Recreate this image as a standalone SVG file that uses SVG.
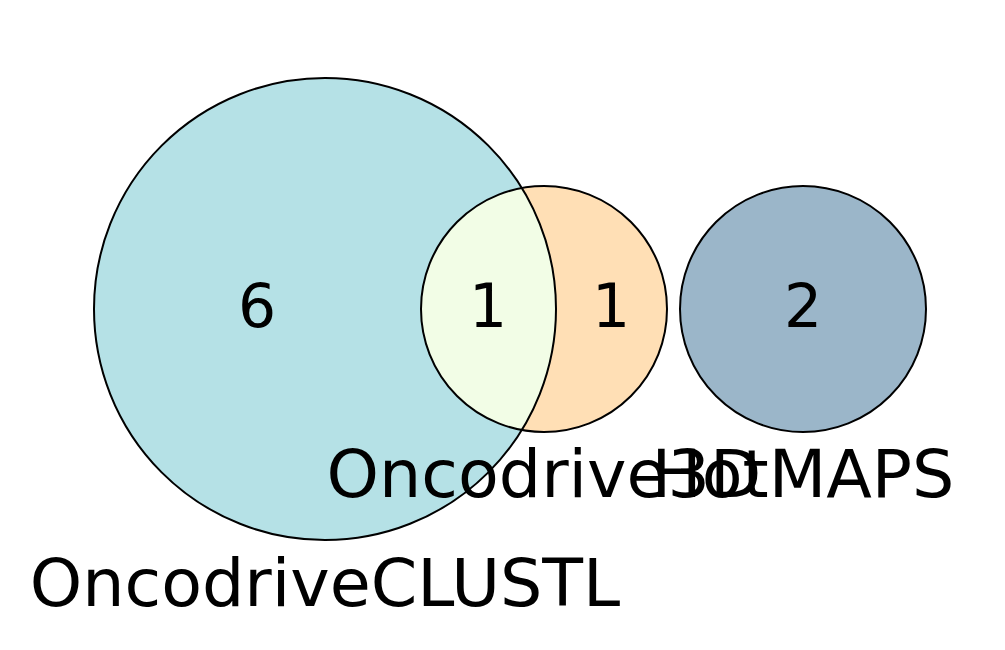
<svg xmlns="http://www.w3.org/2000/svg" width="1005" height="650" viewBox="0 0 1005 650">
<style>
.num{font-family:"DejaVu Sans",sans-serif;font-size:60px;fill:#000;text-anchor:middle}
.lbl{font-family:"DejaVu Sans",sans-serif;font-size:66.7px;fill:#000;text-anchor:middle}
.edge{fill:none;stroke:#000;stroke-width:2}
</style>
<rect width="1005" height="650" fill="#fff"/>
<g id="region-clustl">
<path d="M521.79,188.02 A231,231 0 1 0 521.79,429.98 A123,123 0 0 1 521.79,188.02 Z" fill="#b5e1e6"/>
<text class="num" x="257" y="327">6</text>
</g>
<g id="region-overlap">
<path d="M521.79,188.02 A123,123 0 0 0 521.79,429.98 A231,231 0 0 0 521.79,188.02 Z" fill="#f2fde6"/>
<text class="num" x="488" y="327">1</text>
</g>
<g id="region-3d">
<path d="M521.79,188.02 A123,123 0 1 1 521.79,429.98 A231,231 0 0 0 521.79,188.02 Z" fill="#ffdfb5"/>
<text class="num" x="611" y="327">1</text>
</g>
<g id="region-hotmaps">
<circle cx="803" cy="309" r="123" fill="#9bb6c9"/>
<text class="num" x="803" y="327">2</text>
</g>
<g id="outlines">
<circle class="edge" cx="325" cy="309" r="231"/>
<circle class="edge" cx="544" cy="309" r="123"/>
<circle class="edge" cx="803" cy="309" r="123"/>
</g>
<g id="labels">
<text class="lbl" x="325" y="606">OncodriveCLUSTL</text>
<text class="lbl" x="544" y="497">Oncodrive3D</text>
<text class="lbl" x="803" y="497">HotMAPS</text>
</g>
</svg>
